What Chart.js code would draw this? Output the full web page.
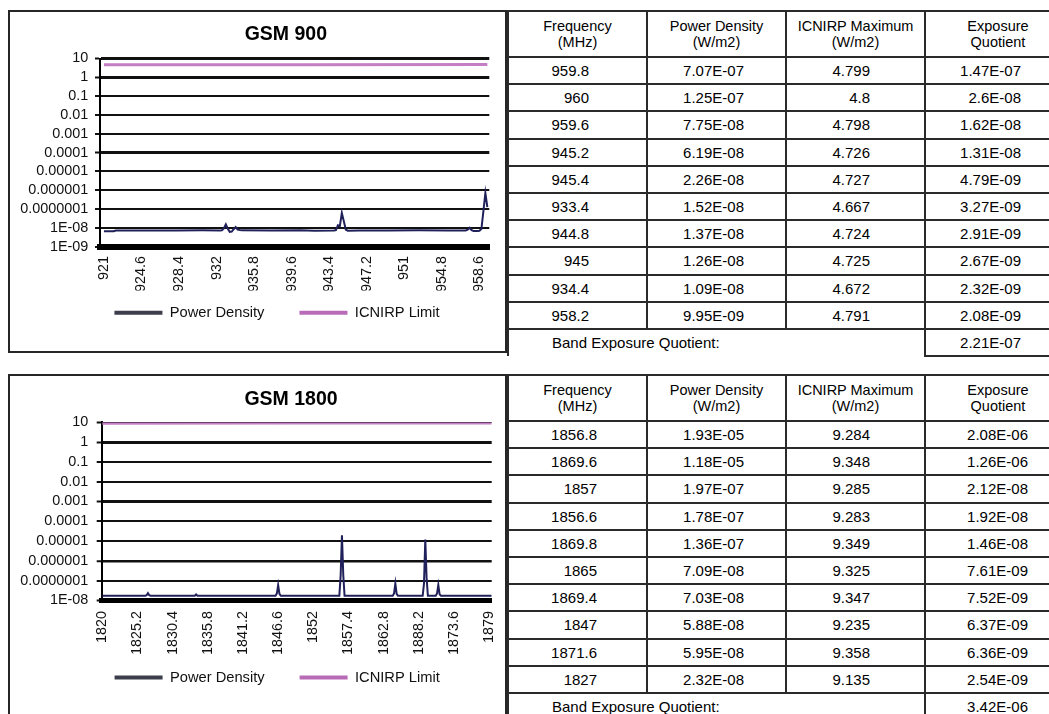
<!DOCTYPE html>
<html>
<head>
<meta charset="utf-8">
<title>GSM 900 / GSM 1800 exposure</title>
<script src="https://cdn.jsdelivr.net/npm/chart.js@4.4.1/dist/chart.umd.min.js"></script>
<style>
  html, body { margin: 0; padding: 0; background: #fff; width: 1049px; height: 714px; overflow: hidden;
               font-family: 'Liberation Sans', Arial, sans-serif; color: #000; }
  .panel { position: absolute; box-sizing: border-box; border: 2px solid #262626; background: #fff; }
  canvas.band { position: absolute; }
  table.quot { position: absolute; border-collapse: collapse; table-layout: fixed; width: 563px; }
  table.quot td { border: 2px solid #2a2a2a; padding: 0; font-size: 15px; text-align: right; color: #000;
                  vertical-align: middle; white-space: nowrap; overflow: hidden; }
  table.quot tr.head td { font-size: 14.5px; line-height: 16px; text-align: center; }
  table.quot td.bandLabel { text-align: left; border-bottom: none; }
</style>
</head>
<body>
<div class="panel" style="left:8px; top:10px; width:499px; height:343px;"></div>
<div class="panel" style="left:8px; top:374px; width:499px; height:420px;"></div>
<canvas id="gsm900" class="band" width="498" height="341" style="left:8px; top:11px; width:498px; height:341px;"></canvas>
<canvas id="gsm1800" class="band" width="498" height="341" style="left:8px; top:375.5px; width:498px; height:341px;"></canvas>
<table id="tab900" class="quot" style="left:507px; top:10px;"></table>
<table id="tab1800" class="quot" style="left:507px; top:374px;"></table>

<script>
// ---------- GSM 900 band: measured power density (W/m2) ----------
const gsm900Freq = [921, 922, 922.2, 925, 928.4, 931, 932.8, 933, 933.2, 933.4, 933.6, 933.8, 934, 934.2, 934.4,
                    934.6, 935, 938, 941, 942.4, 944.4, 944.6, 944.8, 945, 945.2, 945.4, 945.6, 945.8, 947, 950,
                    953, 956, 957.8, 958, 958.2, 958.4, 958.6, 959, 959.2, 959.4, 959.6, 959.8, 960];
const gsm900Power = [6.5e-9, 6.5e-9, 7.1e-9, 7.2e-9, 7.1e-9, 7.3e-9, 7.2e-9, 7.4e-9, 9.2e-9, 1.52e-8, 8.9e-9, 6.1e-9, 6.3e-9, 8.4e-9, 1.09e-8,
                     8.0e-9, 7.3e-9, 7.2e-9, 7.3e-9, 7.0e-9, 7.2e-9, 7.6e-9, 1.37e-8, 1.26e-8, 6.19e-8, 2.26e-8, 8.1e-9, 7.0e-9, 7.2e-9, 7.1e-9,
                     7.3e-9, 7.2e-9, 7.2e-9, 7.9e-9, 9.95e-9, 7.4e-9, 6.8e-9, 6.7e-9, 6.9e-9, 8.8e-9, 7.75e-8, 7.07e-7, 1.25e-7];
const gsm900LimitFreq = [921, 941, 960];
const gsm900Limit = [4.605, 4.705, 4.8];
const gsm900XLabels = ['921', '924.6', '928.4', '932', '935.8', '939.6', '943.4', '947.2', '951', '954.8', '958.6'];
const gsm900YTicks = [1e-9, 1e-8, 1e-7, 1e-6, 1e-5, 1e-4, 1e-3, 1e-2, 1e-1, 1, 10];
const gsm900YLabels = ['1E-09', '1E-08', '0.0000001', '0.000001', '0.00001', '0.0001', '0.001', '0.01', '0.1', '1', '10'];

// ---------- GSM 1800 band: measured power density (W/m2) ----------
const gsm1800Freq = [1820, 1826.6, 1826.8, 1827, 1827.2, 1827.4, 1834.2, 1834.4, 1834.6, 1846.6, 1846.8, 1847, 1847.2,
                     1847.4, 1856.4, 1856.6, 1856.8, 1857, 1857.2, 1864.6, 1864.8, 1865, 1865.2, 1865.4, 1869.2, 1869.4,
                     1869.6, 1869.8, 1870, 1871.2, 1871.4, 1871.6, 1871.8, 1872, 1879.8];
const gsm1800Power = [1.7e-8, 1.7e-8, 1.8e-8, 2.32e-8, 1.8e-8, 1.7e-8, 1.7e-8, 2.0e-8, 1.7e-8, 1.7e-8, 2.2e-8, 5.88e-8, 2.1e-8,
                      1.7e-8, 1.7e-8, 1.78e-7, 1.93e-5, 1.97e-7, 1.7e-8, 1.7e-8, 2.2e-8, 7.09e-8, 2.1e-8, 1.7e-8, 1.7e-8, 7.03e-8,
                      1.18e-5, 1.36e-7, 1.7e-8, 1.7e-8, 2.2e-8, 5.95e-8, 2.0e-8, 1.7e-8, 1.7e-8];
const gsm1800LimitFreq = [1820, 1850, 1879.8];
const gsm1800Limit = [9.1, 9.25, 9.399];
const gsm1800XLabels = ['1820', '1825.2', '1830.4', '1835.8', '1841.2', '1846.6', '1852', '1857.4', '1862.8', '1888.2', '1873.6', '1879'];
const gsm1800YTicks = [1e-8, 1e-7, 1e-6, 1e-5, 1e-4, 1e-3, 1e-2, 1e-1, 1, 10];
const gsm1800YLabels = ['1E-08', '0.0000001', '0.000001', '0.00001', '0.0001', '0.001', '0.01', '0.1', '1', '10'];

// ---------- exposure tables ----------
const tableHeads = [['Frequency', '(MHz)'], ['Power Density', '(W/m2)'], ['ICNIRP Maximum', '(W/m2)'], ['Exposure', 'Quotient']];
const bandLabel = 'Band Exposure Quotient:';

const gsm900TabFreq  = ['959.8', '960', '959.6', '945.2', '945.4', '933.4', '944.8', '945', '934.4', '958.2'];
const gsm900TabPower = ['7.07E-07', '1.25E-07', '7.75E-08', '6.19E-08', '2.26E-08', '1.52E-08', '1.37E-08', '1.26E-08', '1.09E-08', '9.95E-09'];
const gsm900TabLimit = ['4.799', '4.8', '4.798', '4.726', '4.727', '4.667', '4.724', '4.725', '4.672', '4.791'];
const gsm900TabQuot  = ['1.47E-07', '2.6E-08', '1.62E-08', '1.31E-08', '4.79E-09', '3.27E-09', '2.91E-09', '2.67E-09', '2.32E-09', '2.08E-09'];
const gsm900BandQuot = '2.21E-07';

const gsm1800TabFreq  = ['1856.8', '1869.6', '1857', '1856.6', '1869.8', '1865', '1869.4', '1847', '1871.6', '1827'];
const gsm1800TabPower = ['1.93E-05', '1.18E-05', '1.97E-07', '1.78E-07', '1.36E-07', '7.09E-08', '7.03E-08', '5.88E-08', '5.95E-08', '2.32E-08'];
const gsm1800TabLimit = ['9.284', '9.348', '9.285', '9.283', '9.349', '9.325', '9.347', '9.235', '9.358', '9.135'];
const gsm1800TabQuot  = ['2.08E-06', '1.26E-06', '2.12E-08', '1.92E-08', '1.46E-08', '7.61E-09', '7.52E-09', '6.37E-09', '6.36E-09', '2.54E-09'];
const gsm1800BandQuot = '3.42E-06';

// ---------- table builder ----------
function buildTable(id, columns, bandValue, rightPads) {
  const t = document.getElementById(id);
  const colWidths = [139, 139, 139, 146];
  let html = '<colgroup>' + colWidths.map(w => `<col style="width:${w}px">`).join('') + '</colgroup>';
  html += '<tr class="head" style="height:46px">' + tableHeads.map(h => `<td>${h[0]}<br>${h[1]}</td>`).join('') + '</tr>';
  for (let r = 0; r < columns[0].length; r++) {
    html += '<tr style="height:27.2px">' +
      columns.map((c, k) => `<td style="padding-right:${rightPads[k]}px">${c[r]}</td>`).join('') + '</tr>';
  }
  html += `<tr style="height:27.2px"><td colspan="3" class="bandLabel" style="padding-left:43px">${bandLabel}</td>` +
          `<td style="padding-right:${rightPads[3]}px">${bandValue}</td></tr>`;
  t.innerHTML = html;
}
buildTable('tab900', [gsm900TabFreq, gsm900TabPower, gsm900TabLimit, gsm900TabQuot], gsm900BandQuot, [57, 41, 54, 49]);
buildTable('tab1800', [gsm1800TabFreq, gsm1800TabPower, gsm1800TabLimit, gsm1800TabQuot], gsm1800BandQuot, [49, 41, 54, 42]);

// ---------- charts ----------
Chart.defaults.font.family = "'Liberation Sans', Arial, sans-serif";
Chart.defaults.font.size = 14.4;
Chart.defaults.color = '#111';

// Moves the title and legend boxes sideways / upward after layout.
const shiftBoxes = {
  id: 'shiftBoxes',
  afterLayout(chart, args, opts) {
    const t = chart.titleBlock;
    if (t) { t.left += opts.titleDx || 0; t.right += opts.titleDx || 0; }
    const l = chart.legend;
    if (l) {
      l.left += opts.legendDx || 0; l.right += opts.legendDx || 0;
      l.top += opts.legendDy || 0; l.bottom += opts.legendDy || 0;
    }
  }
};

const powerColor = '#20205a';
const limitColor = '#c47ec4';
const legendSwatches = ['#3c3f4b', '#b86cb8'];

function bandChart(canvasId, s) {
  const xTickValues = s.xLabels.map((_, i) => s.xFirst + i * s.xStep);
  return new Chart(document.getElementById(canvasId), {
    type: 'line',
    data: {
      datasets: [
        { label: 'Power Density', data: s.freq.map((f, i) => ({ x: f, y: s.power[i] })),
          borderColor: powerColor, backgroundColor: powerColor, borderWidth: 2, pointRadius: 0, tension: 0 },
        { label: 'ICNIRP Limit', data: s.limitFreq.map((f, i) => ({ x: f, y: s.limit[i] })),
          borderColor: limitColor, backgroundColor: limitColor, borderWidth: 3, pointRadius: 0, tension: 0 }
      ]
    },
    options: {
      responsive: false,
      animation: false,
      events: [],
      layout: { padding: s.pad },
      scales: {
        x: {
          type: 'linear', min: s.xMin, max: s.xMax,
          afterBuildTicks: sc => { sc.ticks = xTickValues.map(v => ({ value: v })); },
          afterFit: sc => { sc.height = s.xHeight; sc.paddingLeft = 0; sc.paddingRight = 0; },
          grid: { display: false, drawTicks: false },
          border: { display: true, color: '#000', width: s.axisBand },
          ticks: { autoSkip: false, minRotation: 90, maxRotation: 90, padding: s.xPad,
                   callback: (v, i) => s.xLabels[i] }
        },
        y: {
          type: 'logarithmic', min: s.yTicks[0], max: s.yTicks[s.yTicks.length - 1],
          afterBuildTicks: sc => { sc.ticks = s.yTicks.map(v => ({ value: v })); },
          afterFit: sc => { sc.width = 86; },
          grid: { color: '#111', lineWidth: c => s.gridWidths[c.index], tickLength: 5, tickWidth: 2, tickColor: '#111' },
          border: { display: true, color: '#000', width: 2 },
          ticks: { autoSkip: false, padding: s.yPad, callback: (v, i) => s.yLabels[i] }
        }
      },
      plugins: {
        title: { display: true, text: s.title, color: '#000',
                 font: { size: 19.5, weight: 'bold' }, padding: { top: 12, bottom: s.titleGap } },
        legend: {
          position: 'bottom',
          labels: {
            boxWidth: 48, boxHeight: 4, padding: 35, color: '#111', font: { size: 14.7 },
            generateLabels: chart => Chart.defaults.plugins.legend.labels.generateLabels(chart)
              .map((it, i) => Object.assign(it, { fillStyle: legendSwatches[i], strokeStyle: legendSwatches[i], lineWidth: 0 }))
          }
        },
        tooltip: { enabled: false },
        shiftBoxes: s.shift
      }
    },
    plugins: [shiftBoxes]
  });
}

bandChart('gsm900', {
  title: 'GSM 900',
  freq: gsm900Freq, power: gsm900Power, limitFreq: gsm900LimitFreq, limit: gsm900Limit,
  xLabels: gsm900XLabels, xFirst: 921, xStep: 3.82, xMin: 920.6, xMax: 960.2,
  yTicks: gsm900YTicks, yLabels: gsm900YLabels,
  gridWidths: [6, 2, 2, 2, 2, 3, 2, 2, 2, 3, 3],
  axisBand: 6,
  pad: { left: 6, right: 16.7, top: 0, bottom: 1.7 },
  titleGap: 12.1, xHeight: 44, xPad: 9.4, yPad: 6.7,
  shift: { titleDx: 34.2, legendDx: 25.4, legendDy: -20.3 }
});

bandChart('gsm1800', {
  title: 'GSM 1800',
  freq: gsm1800Freq, power: gsm1800Power, limitFreq: gsm1800LimitFreq, limit: gsm1800Limit,
  xLabels: gsm1800XLabels, xFirst: 1820, xStep: 5.4, xMin: 1819.9, xMax: 1879.8,
  yTicks: gsm1800YTicks, yLabels: gsm1800YLabels,
  gridWidths: [5, 2, 2.5, 2, 2, 3, 2, 2, 3, 1],
  axisBand: 5,
  pad: { left: 7.7, right: 14.3, top: 0, bottom: 3.5 },
  titleGap: 11.0, xHeight: 53.5, xPad: 10.7, yPad: 8.4,
  shift: { titleDx: 37.3, legendDx: 23.5, legendDy: -18.7 }
});
</script>
</body>
</html>
